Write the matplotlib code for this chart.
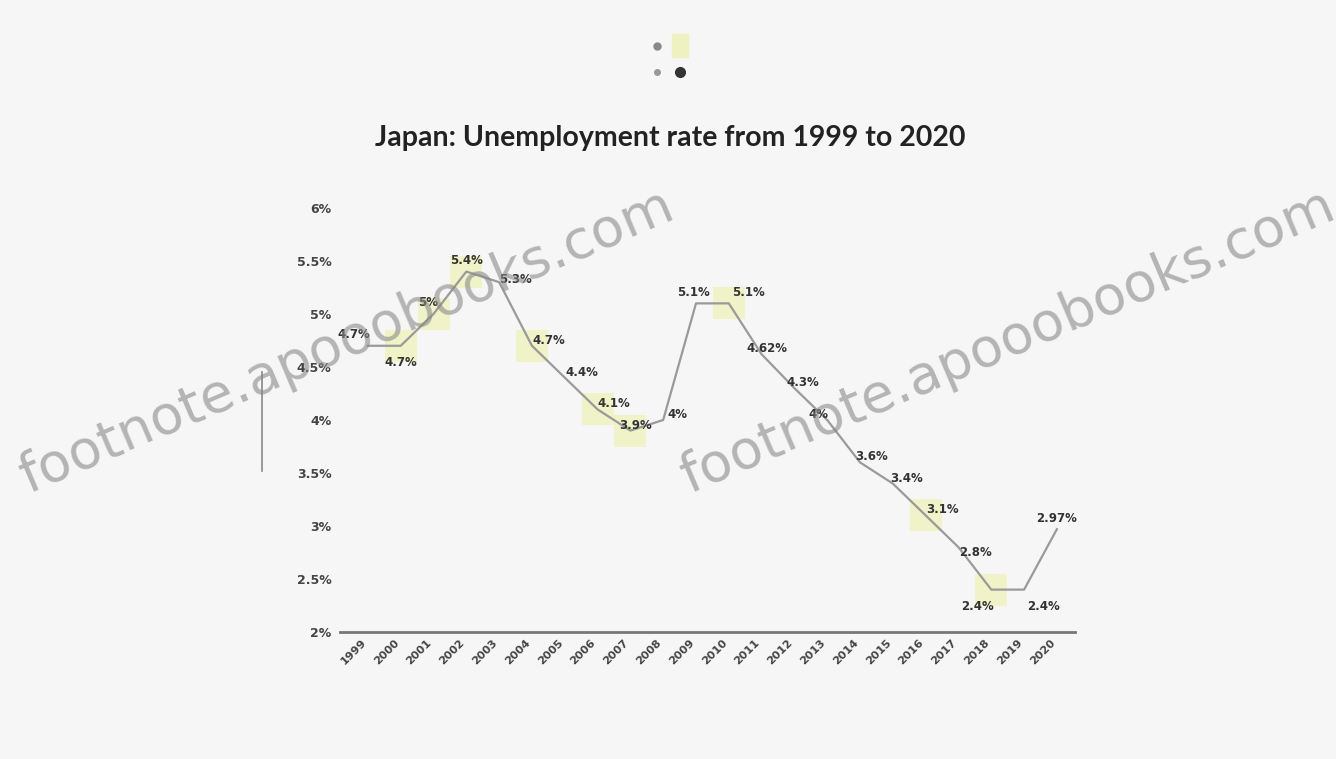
import matplotlib
matplotlib.use("Agg")
import matplotlib.pyplot as plt

years = [str(y) for y in range(1999, 2021)]
rates = [4.7, 4.7, 5.0, 5.4, 5.3, 4.7, 4.4, 4.1, 3.9, 4.0, 5.1, 5.1,
         4.62, 4.3, 4.0, 3.6, 3.4, 3.1, 2.8, 2.4, 2.4, 2.97]
labels = ["4.7%", "4.7%", "5%", "5.4%", "5.3%", "4.7%", "4.4%", "4.1%", "3.9%", "4%",
          "5.1%", "5.1%", "4.62%", "4.3%", "4%", "3.6%", "3.4%", "3.1%", "2.8%",
          "2.4%", "2.4%", "2.97%"]
yticks = [2, 2.5, 3, 3.5, 4, 4.5, 5, 5.5, 6]
ytick_labels = ["2%", "2.5%", "3%", "3.5%", "4%", "4.5%", "5%", "5.5%", "6%"]
highlight_idx = [1, 2, 3, 5, 7, 8, 11, 17, 19]

# label offsets in points (styling)
offsets = [(-10, 8), (0, -12), (-4, 8), (0, 8), (12, 2), (12, 4), (12, 4), (12, 4),
           (4, 4), (10, 4), (-2, 8), (14, 8), (4, 4), (6, 4), (-6, 4), (8, 4),
           (10, 4), (12, 4), (12, -4), (-10, -12), (14, -12), (0, 8)]

bg = "#f6f6f6"
fig = plt.figure(figsize=(13.36, 7.59), dpi=100, facecolor=bg)
ax = fig.add_axes([0.2545, 0.1673, 0.5501, 0.5587], facecolor=bg)

x = list(range(len(years)))
ax.plot(x, rates, color="#9a9a9a", lw=1.6, zorder=3)
ax.scatter([x[i] for i in highlight_idx], [rates[i] for i in highlight_idx],
           marker="s", s=520, color="#f0f3c8", zorder=2, linewidths=0)
for xi, yi, lab, off in zip(x, rates, labels, offsets):
    ax.annotate(lab, (xi, yi), xytext=off, textcoords="offset points",
                ha="center", va="center", fontsize=8.5, color="#333333",
                fontweight="semibold", zorder=4)

ax.set_xlim(-0.85, 21.55)
ax.set_ylim(2, 6)
ax.set_yticks(yticks)
ax.set_yticklabels(ytick_labels, fontsize=9, color="#444444", fontweight="semibold")
ax.set_xticks(x)
ax.set_xticklabels(years, rotation=45, ha="right", fontsize=8, color="#444444",
                   fontweight="semibold")
ax.tick_params(axis="y", length=0, pad=6)
ax.tick_params(axis="x", length=0, pad=4)
for s in ["top", "right", "left"]:
    ax.spines[s].set_visible(False)
ax.spines["bottom"].set_color("#777777")
ax.spines["bottom"].set_linewidth(2)

fig.text(0.502, 0.818, "Japan: Unemployment rate from 1999 to 2020", ha="center",
         va="center", fontsize=20.5, color="#222222", family="Lato", fontweight="bold")

# small legend at top
fig.lines.append(plt.Line2D([0.492], [0.94], marker="o", ms=5, color="#888888",
                            transform=fig.transFigure, figure=fig))
fig.patches.append(plt.Rectangle((0.503, 0.925), 0.012, 0.03, color="#eef2c0",
                                 transform=fig.transFigure, figure=fig))
fig.lines.append(plt.Line2D([0.509], [0.905], marker="o", ms=7, color="#333333",
                            transform=fig.transFigure, figure=fig))
fig.lines.append(plt.Line2D([0.492], [0.905], marker="o", ms=4, color="#999999",
                            transform=fig.transFigure, figure=fig))

# vertical line at left
fig.lines.append(plt.Line2D([0.196, 0.196], [0.38, 0.51], color="#888888", lw=1.2,
                            transform=fig.transFigure, figure=fig))

# watermarks
wm = "footnote.apooobooks.com"
for cx, cy in [(0.26, 0.55), (0.755, 0.55)]:
    fig.text(cx, cy, wm, rotation=23, fontsize=39, color="#888888", alpha=0.6,
             ha="center", va="center")

fig.savefig("out.png", dpi=100, facecolor=bg)
